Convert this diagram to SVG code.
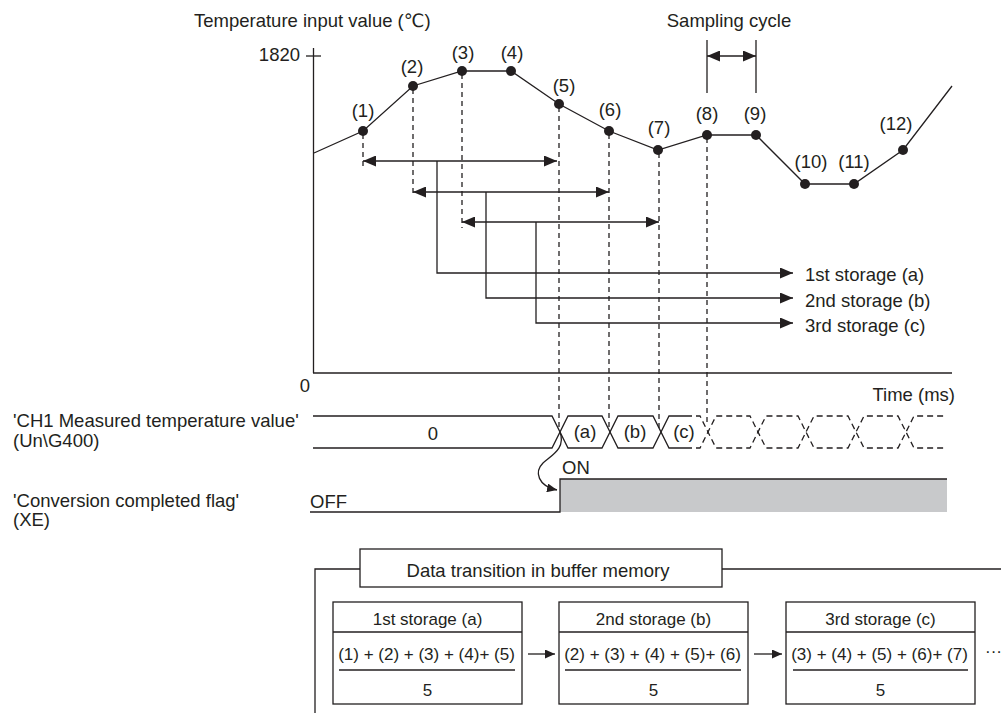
<svg xmlns="http://www.w3.org/2000/svg" width="1001" height="713" viewBox="0 0 1001 713">
<defs>
<marker id="ah" markerUnits="userSpaceOnUse" markerWidth="13" markerHeight="11" refX="13" refY="5.5" orient="auto-start-reverse"><path d="M0,0 L13,5.5 L0,11 z" fill="#231f20"/></marker>
<marker id="ahs" markerUnits="userSpaceOnUse" markerWidth="10" markerHeight="9" refX="10" refY="4.5" orient="auto"><path d="M0,0 L10,4.5 L0,9 z" fill="#231f20"/></marker>
<style>
text{font-family:"Liberation Sans","DejaVu Sans","Noto Sans CJK JP",sans-serif;fill:#231f20;font-size:18.5px}
.sm{font-size:17px}
.mid{text-anchor:middle}
.ln{stroke:#231f20;stroke-width:1.3;fill:none}
.dash{stroke:#231f20;stroke-width:1.3;fill:none;stroke-dasharray:5 4}
.wdash{stroke:#231f20;stroke-width:1.3;fill:none;stroke-dasharray:6 4}
.dot{fill:#231f20}
.box{fill:#fff;stroke:#231f20;stroke-width:1.3}
</style>
</defs>

<g id="axes">
<text x="194" y="27">Temperature input value (℃)</text>
<text x="300" y="61" style="text-anchor:end">1820</text>
<line class="ln" x1="313.5" y1="48" x2="313.5" y2="373"/>
<line class="ln" x1="306" y1="56" x2="321" y2="56"/>
<line class="ln" x1="313" y1="373" x2="952" y2="373"/>
<text x="305" y="392" class="mid">0</text>
<text x="955" y="401" style="text-anchor:end">Time (ms)</text>
</g>

<g id="sampling-cycle">
<text x="729" y="27" class="mid">Sampling cycle</text>
<line class="ln" x1="707" y1="40" x2="707" y2="93"/>
<line class="ln" x1="756" y1="40" x2="756" y2="93"/>
<line class="ln" x1="707" y1="56" x2="756" y2="56" marker-start="url(#ah)" marker-end="url(#ah)"/>
</g>

<g id="curve">
<polyline class="ln" points="314,153 363,131 413,86 462,71 511,71 559,104 609,131 658,150 707,135 756,135 805,184 854,184 903,150 952,86"/>
<circle class="dot" cx="363" cy="131" r="5"/>
<circle class="dot" cx="413" cy="86" r="5"/>
<circle class="dot" cx="462" cy="71" r="5"/>
<circle class="dot" cx="511" cy="71" r="5"/>
<circle class="dot" cx="559" cy="104" r="5"/>
<circle class="dot" cx="609" cy="131" r="5"/>
<circle class="dot" cx="658" cy="150" r="5"/>
<circle class="dot" cx="707" cy="135" r="5"/>
<circle class="dot" cx="756" cy="135" r="5"/>
<circle class="dot" cx="805" cy="184" r="5"/>
<circle class="dot" cx="854" cy="184" r="5"/>
<circle class="dot" cx="903" cy="150" r="5"/>
<text class="mid" x="363" y="117">(1)</text>
<text class="mid" x="412" y="73">(2)</text>
<text class="mid" x="463" y="59">(3)</text>
<text class="mid" x="512" y="59">(4)</text>
<text class="mid" x="564" y="92">(5)</text>
<text class="mid" x="610" y="116">(6)</text>
<text class="mid" x="659" y="134">(7)</text>
<text class="mid" x="707" y="120">(8)</text>
<text class="mid" x="755" y="120">(9)</text>
<text class="mid" x="811" y="168">(10)</text>
<text class="mid" x="854" y="168">(11)</text>
<text class="mid" x="896" y="130">(12)</text>
</g>

<g id="connectors">
<line class="dash" x1="363" y1="134" x2="363" y2="167"/>
<line class="dash" x1="413" y1="89" x2="413" y2="197"/>
<line class="dash" x1="462" y1="74" x2="462" y2="228"/>
<line class="dash" x1="559" y1="107" x2="559" y2="430"/>
<line class="dash" x1="609" y1="134" x2="609" y2="430"/>
<line class="dash" x1="659" y1="153" x2="659" y2="430"/>
<line class="dash" x1="707" y1="138" x2="707" y2="426"/>
<line class="ln" x1="363" y1="161" x2="557" y2="161" marker-start="url(#ah)" marker-end="url(#ah)"/>
<line class="ln" x1="413" y1="192" x2="609" y2="192" marker-start="url(#ah)" marker-end="url(#ah)"/>
<line class="ln" x1="462" y1="222" x2="659" y2="222" marker-start="url(#ah)" marker-end="url(#ah)"/>
<polyline class="ln" points="437,161 437,273 793,273" marker-end="url(#ah)"/>
<polyline class="ln" points="486,192 486,298 793,298" marker-end="url(#ah)"/>
<polyline class="ln" points="536,222 536,323 793,323" marker-end="url(#ah)"/>
<path class="ln" d="M560,432 C566,448 552,455 543,463 C534,472 538,486 557,490" marker-end="url(#ahs)"/>
<line class="ln" x1="528" y1="654" x2="555" y2="654" marker-end="url(#ahs)"/>
<line class="ln" x1="754" y1="654" x2="782" y2="654" marker-end="url(#ahs)"/>
</g>

<g id="storage-labels">
<text x="805" y="281">1st storage (a)</text>
<text x="805" y="307">2nd storage (b)</text>
<text x="805" y="332">3rd storage (c)</text>
</g>

<g id="measured-value">
<text x="13" y="427">'CH1 Measured temperature value'</text>
<text x="13" y="447">(Un\G400)</text>
<path class="ln" d="M313,416 H552 L568,448 H602 L618,416 H653 L669,448 H686"/>
<path class="ln" d="M313,448 H552 L568,416 H602 L618,448 H653 L669,416 H686"/>
<path class="wdash" d="M686,448 H700 L716,416 H750 L766,448 H798 L814,416 H848 L864,448 H898 L914,416 H947"/>
<path class="wdash" d="M686,416 H700 L716,448 H750 L766,416 H798 L814,448 H848 L864,416 H898 L914,448 H947"/>
<text class="mid" x="433" y="440">0</text>
<text class="mid" x="585" y="438">(a)</text>
<text class="mid" x="635" y="438">(b)</text>
<text class="mid" x="684" y="438">(c)</text>
</g>

<g id="conversion-flag">
<text x="13" y="507">'Conversion completed flag'</text>
<text x="13" y="526">(XE)</text>
<text x="310" y="508">OFF</text>
<text x="562" y="474">ON</text>
<rect x="560" y="479" width="387" height="33" fill="#c8c9cb"/>
<polyline class="ln" points="310,512 560,512 560,479 947,479"/>
</g>

<g id="buffer-frame">
<polyline class="ln" points="315,713 315,569 360,569"/>
<line class="ln" x1="722" y1="569" x2="1001" y2="569"/>
<rect class="box" x="360" y="549" width="362" height="38"/>
<text class="mid" x="538" y="577">Data transition in buffer memory</text>
</g>

<g id="storage-a">
<rect class="box" x="333" y="602" width="189" height="102"/>
<line class="ln" x1="333" y1="632" x2="522" y2="632"/>
<text class="mid sm" x="427.5" y="625">1st storage (a)</text>
<text class="mid sm" x="426.5" y="660">(1) + (2) + (3) + (4)+ (5)</text>
<line class="ln" x1="339" y1="670" x2="515" y2="670"/>
<text class="mid sm" x="427.5" y="696">5</text>
</g>

<g id="storage-b">
<rect class="box" x="559" y="602" width="189" height="102"/>
<line class="ln" x1="559" y1="632" x2="748" y2="632"/>
<text class="mid sm" x="653.5" y="625">2nd storage (b)</text>
<text class="mid sm" x="652.5" y="660">(2) + (3) + (4) + (5)+ (6)</text>
<line class="ln" x1="565" y1="670" x2="741" y2="670"/>
<text class="mid sm" x="653.5" y="696">5</text>
</g>

<g id="storage-c">
<rect class="box" x="786" y="602" width="189" height="102"/>
<line class="ln" x1="786" y1="632" x2="975" y2="632"/>
<text class="mid sm" x="880.5" y="625">3rd storage (c)</text>
<text class="mid sm" x="879.5" y="660">(3) + (4) + (5) + (6)+ (7)</text>
<line class="ln" x1="793" y1="670" x2="968" y2="670"/>
<text class="mid sm" x="880.5" y="696">5</text>
</g>

<g id="continuation">
<text class="sm" x="985" y="657">···</text>
</g>
</svg>
